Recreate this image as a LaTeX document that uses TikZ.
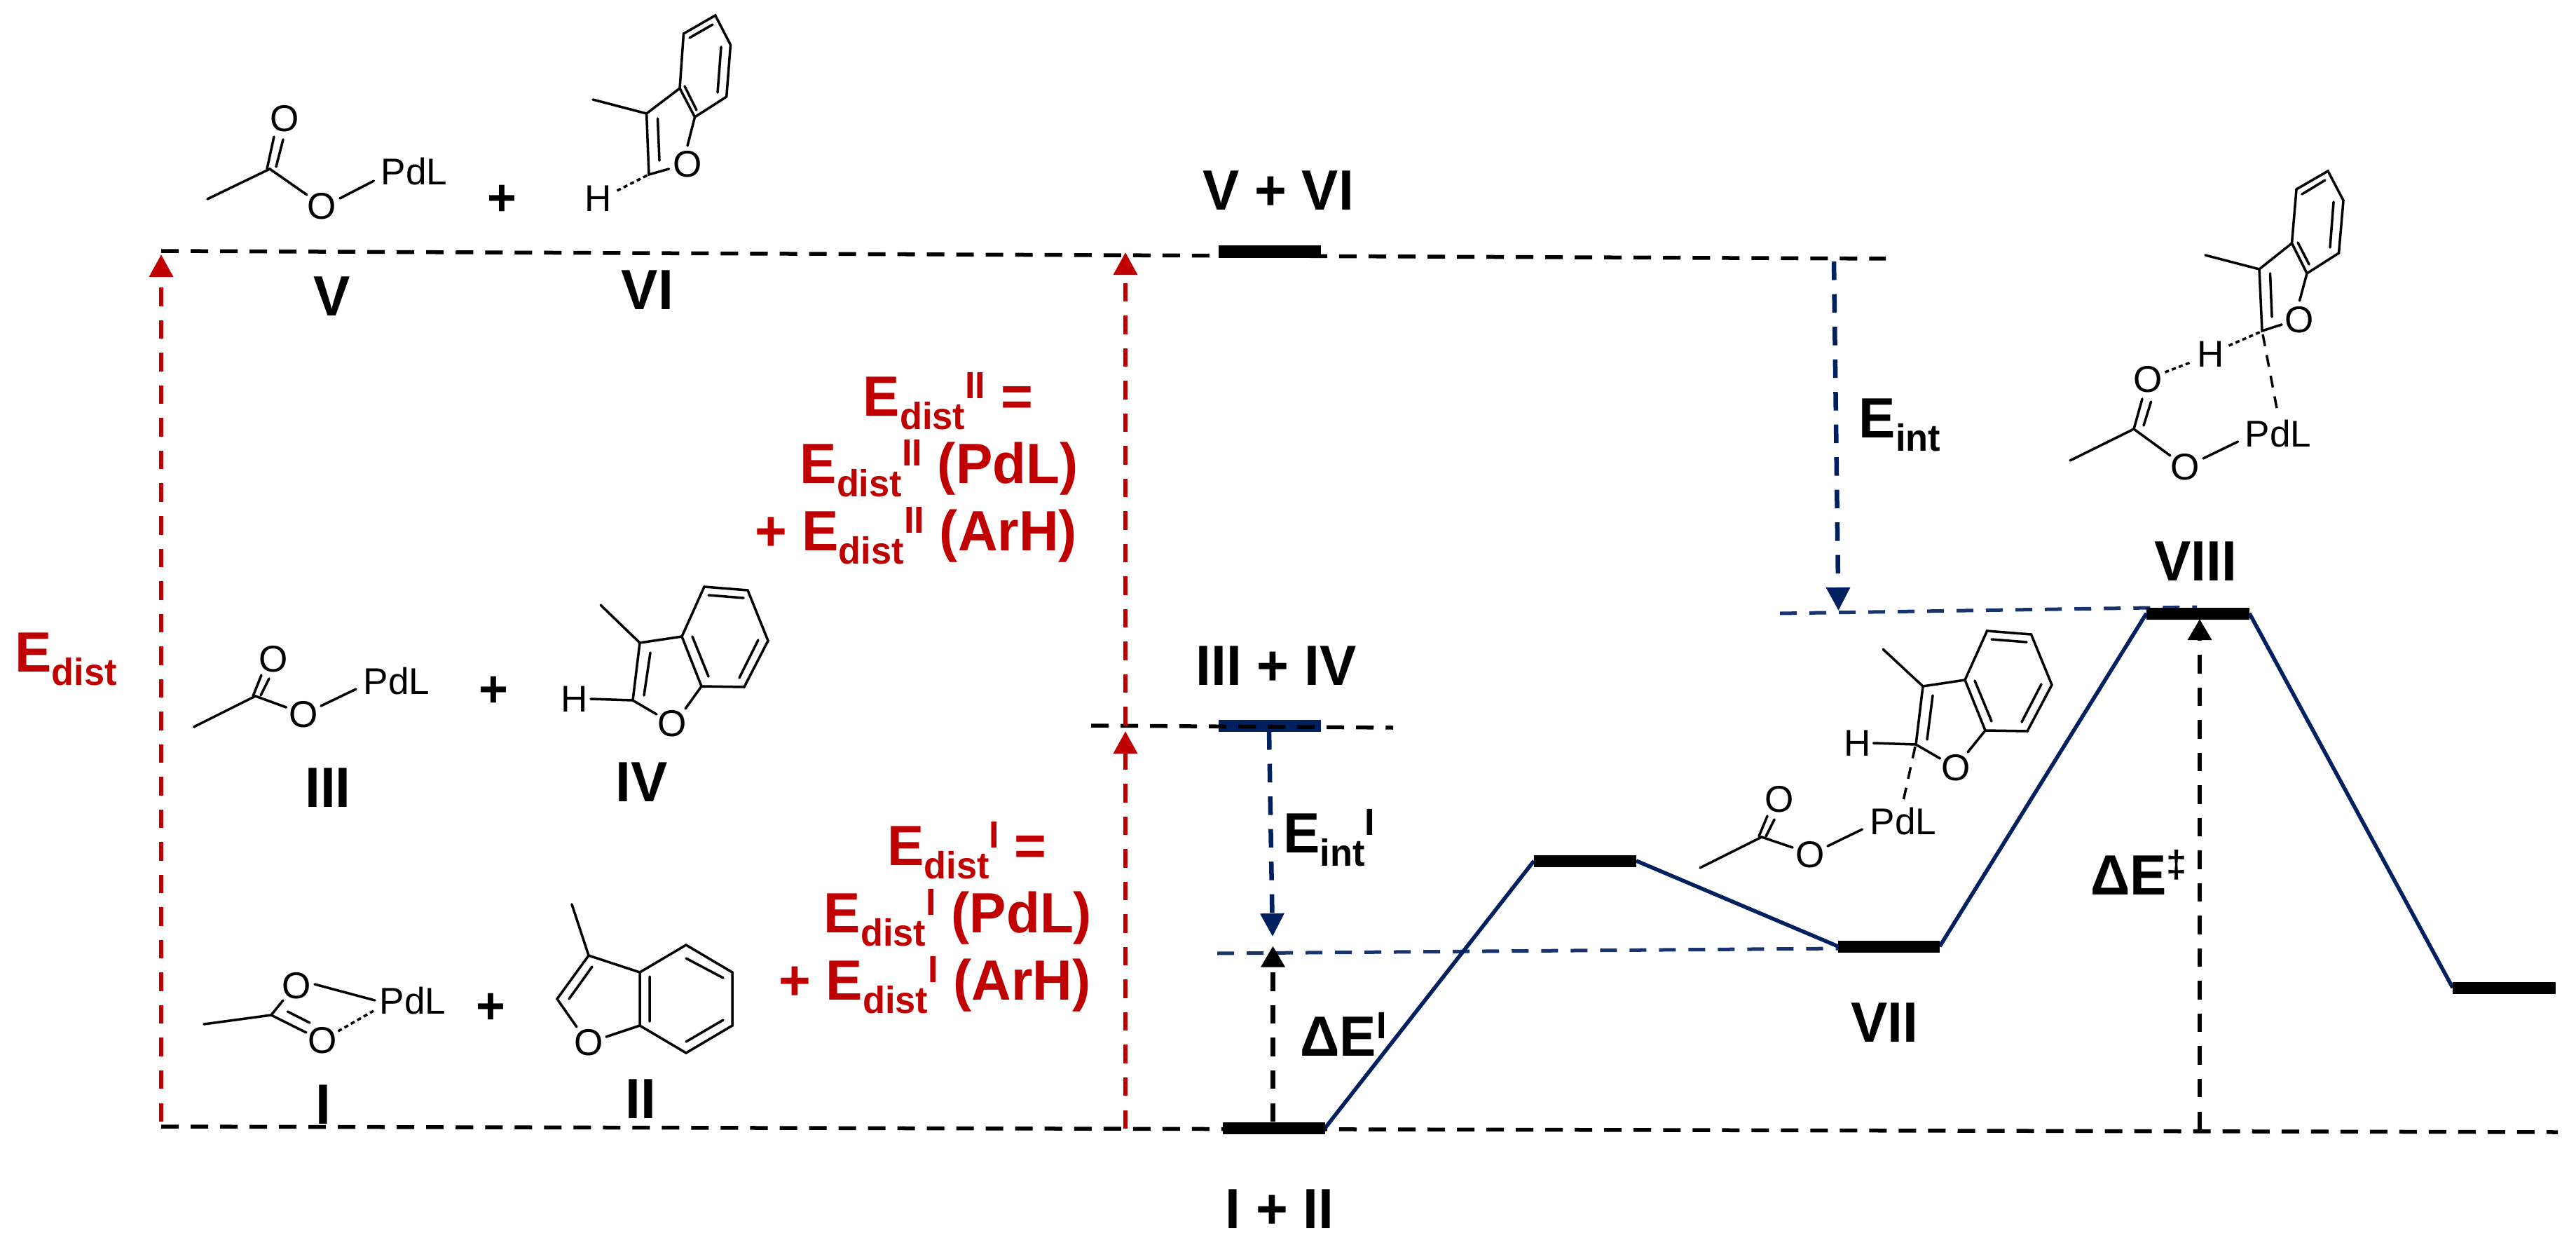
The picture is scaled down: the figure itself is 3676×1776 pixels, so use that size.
\documentclass[tikz,border=0pt]{standalone}
\usepackage{fontspec}
\usepackage{graphicx}
\setmainfont{Liberation Sans}
\newfontfamily\lbf[FakeStretch=0.97]{Liberation Sans Bold}
\usetikzlibrary{arrows.meta}
\definecolor{navy}{HTML}{002060}
\definecolor{navyb}{HTML}{17346F}
\definecolor{dred}{HTML}{C00000}
\newcommand\lo[1]{\raisebox{-.24em}{\scalebox{.667}{#1}}}
\newcommand\hi[1]{\raisebox{.30em}{\scalebox{.667}{#1}}}
\tikzset{
 bond/.style={line width=1pt,line cap=round,black},
 wbond/.style={bond,dash pattern=on 0.06cm off 0.045cm,line cap=butt},
 lbond/.style={bond,dash pattern=on 0.17cm off 0.13cm,line cap=butt},
 atom/.style={inner sep=0pt,font=\fontsize{15.1}{18}\selectfont},
 pdl/.style={inner sep=0pt,anchor=base west,font=\fontsize{15.1}{18}\selectfont},
 plus/.style={inner sep=0pt,font=\lbf\fontsize{21}{24}\selectfont},
 lab/.style={inner sep=0pt,anchor=base,font=\lbf\fontsize{23}{26}\selectfont},
 rlab/.style={lab,text=dred},
 bar/.style={line width=0.17cm,black},
 path/.style={line width=0.055cm,navy},
 hk/.style={line width=0.055cm,black,dash pattern=on 0.25cm off 0.17cm},
 hb/.style={line width=0.05cm,navyb,dash pattern=on 0.24cm off 0.18cm},
 vr/.style={line width=0.065cm,dred,dash pattern=on 0.265cm off 0.2cm,-{Triangle[width=0.33cm,length=0.32cm]}},
 vb/.style={line width=0.065cm,navy,dash pattern=on 0.265cm off 0.2cm,-{Triangle[width=0.33cm,length=0.33cm]}},
 vk/.style={line width=0.065cm,black,dash pattern=on 0.265cm off 0.2cm,-{Triangle[width=0.33cm,length=0.3cm]}},
}
\begin{document}
\begin{tikzpicture}[x=0.01cm,y=-0.01cm]
\useasboundingbox (0,0) rectangle (3676,1776);
% level coordinates
\coordinate (topL) at (230,358); \coordinate (topR) at (2691,369);
\coordinate (botL) at (230,1607); \coordinate (botR) at (3650,1615);
\coordinate (midL) at (1557,1035); \coordinate (midR) at (1988,1038);
\coordinate (bl1L) at (1737,1360); \coordinate (bl1R) at (2625,1353);
\coordinate (bl2L) at (2540,875); \coordinate (bl2R) at (3135,866);
\coordinate (a1) at (1745,1609); \coordinate (a2) at (1891,1609);
\coordinate (b1) at (2189,1228); \coordinate (b2) at (2335,1228);
\coordinate (c1) at (2623,1350); \coordinate (c2) at (2768,1350);
\coordinate (d1) at (3063,875); \coordinate (d2) at (3210,875);
\coordinate (e1) at (3500,1409); \coordinate (e2) at (3647,1409);
\coordinate (f1) at (1739,359); \coordinate (f2) at (1885,359);
\coordinate (g1) at (1739,1035); \coordinate (g2) at (1885,1035);
% dashed levels
\draw[hk] (topL)--(topR);
\draw[hk] (botL)--(botR);
\draw[hb] (bl1L)--(bl1R);
\draw[hb] (bl2L)--(bl2R);
% profile
\draw[path] (a2)--(b1) (b2)--(c1) (c2)--(d1) (d2)--(e1);
\draw[bar] (a1)--(a2);
\draw[bar] (b1)--(b2);
\draw[bar] (c1)--(c2);
\draw[bar] (d1)--(d2);
\draw[bar] (e1)--(e2);
\draw[bar] (f1)--(f2);
\draw[bar,navy] (g1)--(g2);
\draw[hk] (midL)--(midR);
% vertical arrows
\coordinate (r1b) at (230,1600); \coordinate (r1t) at (230,363);
\coordinate (r2b) at (1606,1610); \coordinate (r2t) at (1606,1043);
\coordinate (r3b) at (1606,1035); \coordinate (r3t) at (1606,360);
\coordinate (n1t) at (1811,1043); \coordinate (n1b) at (1816,1336);
\coordinate (k1b) at (1816.5,1600); \coordinate (k1t) at (1816.5,1349.5);
\coordinate (n2t) at (2617,373); \coordinate (n2b) at (2623.5,871);
\coordinate (k2b) at (3139,1612); \coordinate (k2t) at (3139,883);
\draw[vr] (r1b)--(r1t);
\draw[vr] (r2b)--(r2t);
\draw[vr] (r3b)--(r3t);
\draw[vb] (n1t)--(n1b);
\draw[vk] (k1b)--(k1t);
\draw[vb] (n2t)--(n2b);
\draw[vk] (k2b)--(k2t);
% level labels
\node[lab] (lVVI) at (1824,300) {V + VI};
\node[lab] (lIIIIV) at (1821,977) {III + IV};
\node[lab] (lIII) at (1826,1752) {I + II};
\node[lab] (lVII) at (2689,1486) {VII};
\node[lab] (lVIII) at (3133,828) {VIII};
\node[lab] (lDE) at (3052,1276) {ΔE\hi{‡}};
\node[lab] (lDEI) at (1917,1506) {ΔE\hi{I}};
\node[lab] (lEint) at (2711,624) {E\lo{int}};
\node[lab] (lEintI) at (1897,1216) {E\lo{int}\hi{I}};
\node[rlab] (lEd) at (94,958) {E\lo{dist}};
\node[rlab] (t1) at (1353,593) {E\lo{dist}\hi{II} =};
\node[rlab] (t2) at (1340,689) {E\lo{dist}\hi{II} (PdL)};
\node[rlab] (t3) at (1307,785) {+ E\lo{dist}\hi{II} (ArH)};
\node[rlab] (t4) at (1380,1234) {E\lo{dist}\hi{I} =};
\node[rlab] (t5) at (1367,1330) {E\lo{dist}\hi{I} (PdL)};
\node[rlab] (t6) at (1334,1426) {+ E\lo{dist}\hi{I} (ArH)};
% compound labels
\node[lab] (nV) at (474,450) {V};
\node[lab] (nVI) at (924,442) {VI};
\node[lab] (nIII) at (468,1151) {III};
\node[lab] (nIV) at (915.5,1143) {IV};
\node[lab] (nI) at (461.5,1603) {I};
\node[lab] (nII) at (914,1595) {II};
% ---- V
\node[atom] (v1) at (406,169) {O};
\node[atom] (v2) at (459.6,294) {O};
\node[pdl] (v3) at (543,264) {PdL};
\draw[bond] (296,284)--(385,241)--(438,278);
\draw[bond] (391,195)--(381,241) (404,199)--(394,238);
\draw[bond] (485,283)--(533.5,258);
\node[plus] (pV) at (716.6,286) {+};
% ---- VI
\node[atom] (v4) at (854,283) {H};
\node[atom] (v5) at (981,234) {O};
\draw[wbond] (880.5,272)--(924,250);
\draw[bond] (846,142)--(922.6,162)--(970,126)--(975.5,48)--(1020.8,22)--(1042.5,64)--(1036.7,138)--(991.5,167)--(970,126);
\draw[bond] (922.6,162)--(926,249)--(954.5,241);
\draw[bond] (991.5,167)--(981,208);
\draw[bond] (938.5,169)--(941,229) (977,123)--(994,157) (984,54)--(1017,35) (1029,67)--(1024,132);
% ---- III
\node[atom] (u1) at (390,940) {O};
\node[atom] (u2) at (433,1019) {O};
\node[pdl] (u3) at (518,990) {PdL};
\draw[bond] (276.5,1037)--(364.5,993)--(408.5,1009);
\draw[bond] (373,963)--(361,993) (384,968)--(372,992);
\draw[bond] (458,1007)--(508,983);
\node[plus] (pIII) at (704,987) {+};
% ---- IV
\node[atom] (u4) at (820,997) {H};
\node[atom] (u5) at (959,1032) {O};
\draw[bond] (843,997)--(903,999)--(913,917)--(973,908)--(1005,837)--(1067,842)--(1096,914)--(1062,980)--(1001,979)--(973,908);
\draw[bond] (857,863)--(913,917);
\draw[bond] (903,999)--(937,1019);
\draw[bond] (1001,979)--(978,1011);
\draw[bond] (928,931)--(919,992) (988,908)--(1011,965) (1011,849)--(1061,853) (1082,913)--(1055,967);
% ---- I
\node[atom] (w1) at (423,1406) {O};
\node[atom] (w2) at (460,1484) {O};
\node[pdl] (w3) at (541,1446) {PdL};
\draw[bond] (291,1461)--(387,1448)--(404,1427);
\draw[bond] (387,1448)--(437,1473) (410.5,1443)--(442,1459);
\draw[bond] (449,1404)--(535,1427);
\draw[wbond] (482.5,1471)--(533,1442);
\node[plus] (pI) at (700,1439) {+};
% ---- II
\node[atom] (w4) at (840,1487) {O};
\draw[bond] (816,1290)--(840,1363)--(795,1425)--(823,1465);
\draw[bond] (840,1363)--(913,1387)--(979,1348)--(1045,1387)--(1045,1463)--(979,1502)--(913,1463)--(913,1387);
\draw[bond] (913,1463)--(865,1479);
\draw[bond] (812,1425)--(845,1379) (927,1393)--(927,1457) (979,1367)--(1032,1395) (1032,1455)--(979,1486);
% ---- VII
\node[atom] (x1) at (2539,1140) {O};
\node[atom] (x2) at (2583,1219) {O};
\node[pdl] (x3) at (2668,1190) {PdL};
\node[atom] (x4) at (2651,1060) {H};
\node[atom] (x5) at (2791,1095) {O};
\draw[bond] (2426,1238)--(2514,1194)--(2558,1209);
\draw[bond] (2522,1164)--(2510,1193) (2532,1169)--(2520,1193);
\draw[bond] (2608,1207)--(2657.5,1183);
\draw[bond] (2673.5,1060)--(2734,1062)--(2744,979)--(2804,970)--(2835.5,900)--(2898.5,905)--(2928,977)--(2893,1043)--(2833,1042)--(2804,970);
\draw[bond] (2687,926)--(2744,979);
\draw[bond] (2734,1062)--(2768.5,1082);
\draw[bond] (2833,1042)--(2808,1073);
\draw[lbond] (2733,1065)--(2715,1147);
\draw[bond] (2758,992)--(2750,1055) (2818,971)--(2842,1029) (2842,912)--(2892,916) (2913,976)--(2885,1030);
% ---- VIII
\node[atom] (y1) at (3065,541) {O};
\node[atom] (y2) at (3118,666) {O};
\node[pdl] (y3) at (3203,637) {PdL};
\node[atom] (y4) at (3154.5,505) {H};
\node[atom] (y5) at (3281.5,456) {O};
\draw[bond] (2954,657)--(3045,612)--(3097,650);
\draw[bond] (3057,569)--(3045,612) (3069.5,573)--(3059,607);
\draw[bond] (3144,654)--(3193.5,630);
\draw[wbond] (3089.5,531)--(3128.5,516);
\draw[wbond] (3180.5,493)--(3229,472);
\draw[bond] (3147,364)--(3224,384)--(3270.5,347)--(3277,270)--(3322,244)--(3344,286)--(3337.5,361)--(3292,390)--(3270.5,347);
\draw[bond] (3224,384)--(3228,472)--(3256,463);
\draw[bond] (3292,390)--(3281.5,429);
\draw[lbond] (3229,477)--(3251,593);
\draw[bond] (3239.5,390)--(3242,452) (3279,346)--(3295,377) (3285,277)--(3318,257) (3330,288)--(3325,353);
\end{tikzpicture}
\end{document}
